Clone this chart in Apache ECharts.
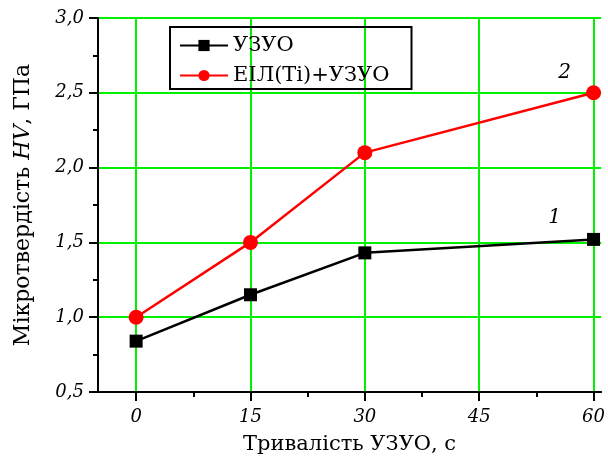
<!DOCTYPE html>
<html lang="uk">
<head>
<meta charset="utf-8" />
<title>Мікротвердість</title>
<script src="https://cdn.jsdelivr.net/npm/echarts@6/dist/echarts.min.js"></script>
<style>
  html, body { margin: 0; padding: 0; background: #fff; }
  #chart { width: 608px; height: 464px; }
</style>
</head>
<body>
<div id="chart"></div>
<script>
// тривалість УЗУО, с
var times = [0, 15, 30, 60];
var uzuo = [0.84, 1.15, 1.43, 1.52];
var eilTi = [1.0, 1.5, 2.1, 2.5];
var xTicks = [0, 15, 30, 45, 60];
var xMinor = [7.5, 22.5, 37.5, 52.5];
var seriesNames = ['УЗУО', 'ЕІЛ(Ті)+УЗУО'];
var curveTags = ['1', '2'];

var serif = 'DejaVu Serif';

function pairs(xs, ys, tag, off) {
  return xs.map(function (x, i) {
    var item = { value: [x, ys[i]] };
    if (i === xs.length - 1) {
      item.label = {
        show: true, formatter: tag, position: 'top', offset: off,
        fontFamily: serif, fontStyle: 'italic', fontSize: 20, color: '#000'
      };
    }
    return item;
  });
}

var chart = echarts.init(document.getElementById('chart'));

var option = {
  backgroundColor: '#fff',
  animation: false,
  grid: { left: 98, top: 18, right: 3, bottom: 72 },
  legend: {
    left: 170, top: 27,
    orient: 'vertical',
    padding: [8, 22, 3, 9],
    itemGap: 9,
    itemWidth: 48, itemHeight: 14,
    borderColor: '#000', borderWidth: 2,
    textStyle: { fontFamily: serif, fontSize: 21, color: '#000' },
    data: seriesNames
  },
  xAxis: [{
    type: 'value',
    min: -5, max: 61,
    name: 'Тривалість УЗУО, с',
    nameLocation: 'middle',
    nameGap: 42,
    nameTextStyle: { fontFamily: serif, fontSize: 21, color: '#000' },
    axisLine: { onZero: false, lineStyle: { color: '#000', width: 2 } },
    axisTick: { customValues: xTicks, length: 9, lineStyle: { color: '#000', width: 2 } },
    axisLabel: {
      customValues: xTicks, margin: 16,
      fontFamily: serif, fontStyle: 'italic', fontSize: 18, color: '#000'
    },
    splitLine: { show: true, lineStyle: { color: '#00f000', width: 2 } }
  }, {
    type: 'value',
    min: -5, max: 61,
    position: 'bottom',
    axisLine: { show: false },
    axisTick: { customValues: xMinor, length: 5, lineStyle: { color: '#000', width: 2 } },
    axisLabel: { show: false },
    splitLine: { show: false }
  }],
  yAxis: {
    type: 'value',
    min: 0.5, max: 3.0, interval: 0.5,
    name: '{n|Мікротвердість }{i|HV}{n|, ГПа}',
    nameLocation: 'middle',
    nameGap: 64,
    nameTextStyle: {
      rich: {
        n: { fontFamily: serif, fontSize: 22, color: '#000' },
        i: { fontFamily: serif, fontStyle: 'italic', fontSize: 22, color: '#000' }
      }
    },
    axisLine: { show: true, onZero: false, lineStyle: { color: '#000', width: 2 } },
    axisTick: { show: true, length: 9, lineStyle: { color: '#000', width: 2 } },
    minorTick: { show: true, splitNumber: 2, length: 5, lineStyle: { color: '#000', width: 2 } },
    axisLabel: {
      margin: 14,
      fontFamily: serif, fontStyle: 'italic', fontSize: 18, color: '#000',
      formatter: function (v) { return v.toFixed(1).replace('.', ','); }
    },
    splitLine: { show: true, lineStyle: { color: '#00f000', width: 2 } }
  },
  series: [{
    name: seriesNames[0],
    type: 'line',
    symbol: 'rect', symbolSize: 13,
    itemStyle: { color: '#000' },
    lineStyle: { color: '#000', width: 2.5 },
    data: pairs(times, uzuo, curveTags[0], [-39, 0]),
    z: 3
  }, {
    name: seriesNames[1],
    type: 'line',
    symbol: 'circle', symbolSize: 15,
    itemStyle: { color: '#ff0000' },
    lineStyle: { color: '#ff0000', width: 2.5 },
    data: pairs(times, eilTi, curveTags[1], [-29, 2]),
    z: 4
  }]
};

chart.setOption(option);
window.onresize = function () { chart.resize(); };
</script>
</body>
</html>
